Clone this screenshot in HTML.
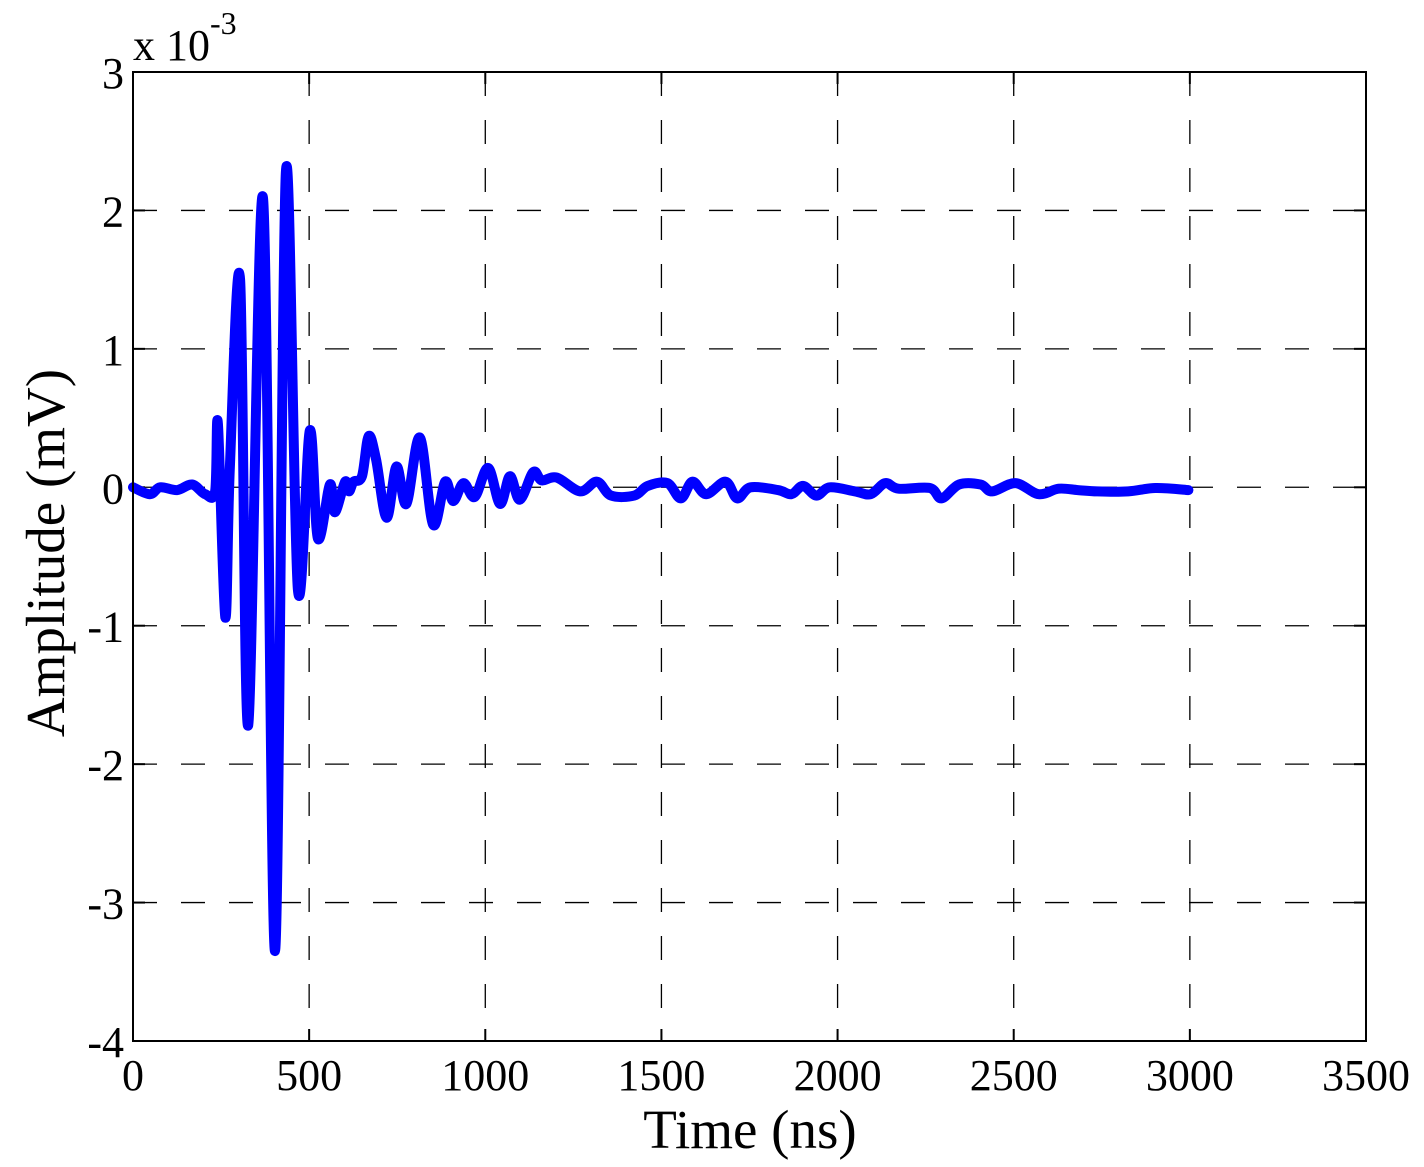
<!DOCTYPE html>
<html><head><meta charset="utf-8"><style>
body{margin:0;background:#fff}
svg{display:block;font-family:"Liberation Serif",serif}
</style></head><body>
<svg id="chart" width="1424" height="1167" viewBox="0 0 1424 1167">
<g id="grid"></g>
<g id="ticks"></g>
<g id="series"></g>
<rect x="133" y="72" width="1233" height="969" fill="none" stroke="#000" stroke-width="2"/>
<g id="labels" font-size="44" fill="#000"></g>
<text x="133" y="60" font-size="44">x 10<tspan font-size="32" dy="-26">-3</tspan></text>
<text x="750" y="1148" font-size="55" text-anchor="middle">Time (ns)</text>
<text x="0" y="0" font-size="55" text-anchor="middle" transform="translate(64,553) rotate(-90)">Amplitude (mV)</text>
</svg>
<script>
const xTicks=[0,500,1000,1500,2000,2500,3000,3500];
const yTicks=[-4,-3,-2,-1,0,1,2,3];
const times=[0,48,77,125,168,205,233,241,262,275,304,327,369,403,434,468,502,525,559,573,602,613,626,650,669,690,720,748,776,814,852,886,909,938,970,1008,1042,1070,1098,1136,1160,1203,1269,1317,1357,1423,1461,1517,1555,1588,1627,1682,1715,1753,1831,1869,1902,1940,1978,2050,2094,2135,2173,2262,2295,2345,2406,2439,2505,2571,2627,2682,2737,2825,2902,2996];
const amps=[0,-0.05,0,-0.02,0.02,-0.05,-0.03,0.46,-0.94,0.15,1.5,-1.72,2.09,-3.35,2.28,-0.74,0.41,-0.37,0.02,-0.18,0.04,-0.03,0.04,0.08,0.37,0.2,-0.22,0.15,-0.12,0.36,-0.27,0.04,-0.1,0.03,-0.07,0.14,-0.12,0.08,-0.09,0.11,0.05,0.07,-0.03,0.04,-0.06,-0.06,0.01,0.03,-0.08,0.04,-0.05,0.04,-0.08,0,-0.02,-0.05,0.01,-0.06,0,-0.03,-0.05,0.03,-0.01,-0.005,-0.08,0.02,0.02,-0.03,0.03,-0.05,-0.01,-0.02,-0.03,-0.03,-0.005,-0.02];
const X0=133,X1=1366,Y0=1041,Y1=72;
const xs=t=>X0+(t-0)/(3500-0)*(X1-X0);
const ys=v=>Y0-(v-(-4))/(3-(-4))*(Y0-Y1);
const NS='http://www.w3.org/2000/svg';
const grid=document.getElementById('grid'),ticks=document.getElementById('ticks'),labels=document.getElementById('labels'),series=document.getElementById('series');
function ln(p,x1,y1,x2,y2,dash,w){const l=document.createElementNS(NS,'line');l.setAttribute('x1',x1);l.setAttribute('y1',y1);l.setAttribute('x2',x2);l.setAttribute('y2',y2);l.setAttribute('stroke','#000');l.setAttribute('stroke-width',w);if(dash)l.setAttribute('stroke-dasharray',dash);p.appendChild(l);return l;}
xTicks.forEach(t=>{const x=xs(t);
 if(t>0&&t<3500){const g=ln(grid,x,Y1,x,Y0,'24,24',1.3);
 
 }
 const a=ln(ticks,x,Y0,x,Y0-12,null,2);
 
 
 const b=ln(ticks,x,Y1,x,Y1+12,null,2);
 
 
 const tx=document.createElementNS(NS,'text');tx.setAttribute('x',x);tx.setAttribute('y',1090);tx.setAttribute('text-anchor','middle');tx.textContent=t;
 
 
 labels.appendChild(tx);});
yTicks.forEach(v=>{const y=ys(v);
 if(v>-4&&v<3){const g=ln(grid,X0,y,X1,y,'24,24',1.3);
 
 }
 const a=ln(ticks,X0,y,X0+12,y,null,2);
 
 
 const b=ln(ticks,X1,y,X1-12,y,null,2);
 
 
 const tx=document.createElementNS(NS,'text');tx.setAttribute('x',124);tx.setAttribute('y',y+16);tx.setAttribute('text-anchor','end');tx.textContent=v;
 
 
 labels.appendChild(tx);});
// smooth curve (Catmull-Rom -> cubic Bezier)
const P=times.map((t,i)=>[xs(t),ys(amps[i])]);
let d='M'+P[0][0].toFixed(1)+','+P[0][1].toFixed(1);
for(let i=0;i<P.length-1;i++){
 const p0=P[Math.max(0,i-1)],p1=P[i],p2=P[i+1],p3=P[Math.min(P.length-1,i+2)];
 const k=1/6;
 const c1=[p1[0]+(p2[0]-p0[0])*k,p1[1]+(p2[1]-p0[1])*k];
 const c2=[p2[0]-(p3[0]-p1[0])*k,p2[1]-(p3[1]-p1[1])*k];
 c1[0]=Math.min(Math.max(c1[0],p1[0]),p2[0]);c2[0]=Math.min(Math.max(c2[0],p1[0]),p2[0]);
 d+=' C'+c1[0].toFixed(1)+','+c1[1].toFixed(1)+' '+c2[0].toFixed(1)+','+c2[1].toFixed(1)+' '+p2[0].toFixed(1)+','+p2[1].toFixed(1);
}
const p=document.createElementNS(NS,'path');
p.setAttribute('d',d);
p.setAttribute('fill','none');p.setAttribute('stroke','#0000ff');p.setAttribute('stroke-width','10');p.setAttribute('stroke-linejoin','round');p.setAttribute('stroke-linecap','round');


series.appendChild(p);
</script>
</body></html>
